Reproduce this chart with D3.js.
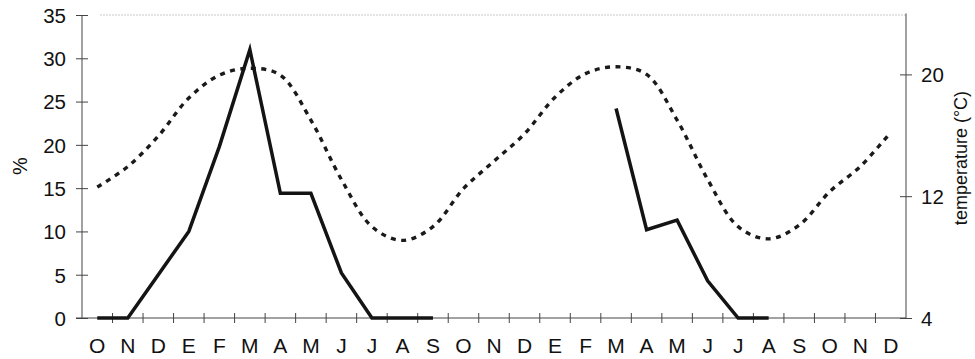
<!DOCTYPE html>
<html>
<head>
<meta charset="utf-8">
<script src="https://cdn.jsdelivr.net/npm/d3@7"></script>
<style>
  html, body { margin: 0; padding: 0; background: #fff; }
  svg { display: block; }
  text { font-family: "Liberation Sans", Arial, sans-serif; fill: #111; }
</style>
</head>
<body>
<svg id="chart" width="975" height="359"></svg>
<script>
// Month initials (Spanish), October through December of the following year
const months = ["O","N","D","E","F","M","A","M","J","J","A","S",
                "O","N","D","E","F","M","A","M","J","J","A","S",
                "O","N","D"];

// Percentage per month (solid line); null = no observation
const percent = [0, 0, 5, 10, 19.8, 31, 14.4, 14.4, 5.2, 0, 0, 0,
                 null, null, null, null, null, 24.2, 10.2, 11.3, 4.3, 0, 0, null,
                 null, null, null];

// Mean monthly temperature in °C (dashed line)
const temperature = [12.6, 13.95, 15.95, 18.45, 19.95, 20.4, 19.95, 17.0, 13.1, 10.0, 9.1, 10.0,
                     12.5, 14.3, 16.1, 18.5, 20.05, 20.5, 20.0, 17.0, 13.1, 10.0, 9.2, 10.1,
                     12.3, 13.95, 16.2];

const percentTicks = [0, 5, 10, 15, 20, 25, 30, 35];
const tempTicks = [4, 12, 20];

const svg = d3.select("#chart");
const left = 82, right = 906, bottom = 318, topL = 15, topR = 13.5;

const x = d3.scaleBand().domain(d3.range(months.length)).range([left, right]).padding(0);
const cx = i => x(i) + x.bandwidth() / 2;
const yL = d3.scaleLinear().domain([0, 35]).range([bottom, topL]);
const yR = d3.scaleLinear().domain([4, 24]).range([bottom, topR]);

const axisColor = "#444";

// faint top frame
svg.append("line")
  .attr("x1", 100).attr("x2", right).attr("y1", topL).attr("y2", topL)
  .attr("stroke", "#c8c8c8").attr("stroke-width", 1).attr("stroke-dasharray", "2,1");

// left axis
const gL = svg.append("g").attr("transform", `translate(${left},0)`)
  .call(d3.axisLeft(yL).tickValues(percentTicks).tickSize(0).tickPadding(0));
gL.select(".domain").remove();
gL.selectAll(".tick text").remove();
gL.append("line").attr("x1", 0).attr("x2", 0).attr("y1", topL).attr("y2", bottom)
  .attr("stroke", axisColor).attr("stroke-width", 1);
gL.selectAll(".tick").append("line").attr("x1", -6).attr("x2", 6)
  .attr("stroke", axisColor).attr("stroke-width", 1);
gL.selectAll(".tick").append("text")
  .attr("x", -16).attr("dy", "0.36em").attr("text-anchor", "end")
  .style("font-size", "20.5px").text(d => d);

// right axis
const gR = svg.append("g").attr("transform", `translate(${right},0)`)
  .call(d3.axisRight(yR).tickValues(tempTicks).tickSize(0).tickPadding(0));
gR.select(".domain").remove();
gR.selectAll(".tick text").remove();
gR.append("line").attr("x1", 0).attr("x2", 0).attr("y1", topR).attr("y2", bottom)
  .attr("stroke", axisColor).attr("stroke-width", 1);
gR.selectAll(".tick").append("line").attr("x1", -6).attr("x2", 6)
  .attr("stroke", axisColor).attr("stroke-width", 1);
gR.selectAll(".tick").append("text")
  .attr("x", 15).attr("dy", "0.36em").attr("text-anchor", "start")
  .style("font-size", "20.5px").text(d => d);

// bottom axis: ticks at month boundaries, labels centred in each month
const gB = svg.append("g").attr("transform", `translate(0,${bottom})`);
gB.append("line").attr("x1", left - 6).attr("x2", right).attr("y1", 0).attr("y2", 0)
  .attr("stroke", axisColor).attr("stroke-width", 1);
gB.selectAll("line.mt").data(d3.range(1, months.length))
  .join("line").attr("class", "mt")
  .attr("x1", d => x(d)).attr("x2", d => x(d)).attr("y1", -5).attr("y2", 5)
  .attr("stroke", axisColor).attr("stroke-width", 1);
gB.selectAll("text").data(months)
  .join("text")
  .attr("x", (d, i) => cx(i)).attr("y", 35)
  .attr("text-anchor", "middle")
  .style("font-size", "21px").text(d => d);

// axis titles
svg.append("text")
  .attr("transform", `translate(27,166) rotate(-90)`)
  .attr("text-anchor", "middle").style("font-size", "20px").text("%");
svg.append("text")
  .attr("transform", `translate(967,158) rotate(-90)`)
  .attr("text-anchor", "middle").style("font-size", "18px").text("temperature (°C)");

// temperature: smoothed dashed line
const tempLine = d3.line()
  .x((d, i) => cx(i)).y(d => yR(d))
  .curve(d3.curveCatmullRom.alpha(0.5));
svg.append("path").datum(temperature)
  .attr("d", tempLine)
  .attr("fill", "none").attr("stroke", "#1a1a1a")
  .attr("stroke-width", 3.4).attr("stroke-dasharray", "5,5.5");

// percentage: solid line with gaps
const pctLine = d3.line()
  .defined(d => d != null)
  .x((d, i) => cx(i)).y(d => yL(d));
svg.append("path").datum(percent)
  .attr("d", pctLine)
  .attr("fill", "none").attr("stroke", "#141414")
  .attr("stroke-width", 3.5).attr("stroke-linejoin", "miter");
</script>
</body>
</html>
